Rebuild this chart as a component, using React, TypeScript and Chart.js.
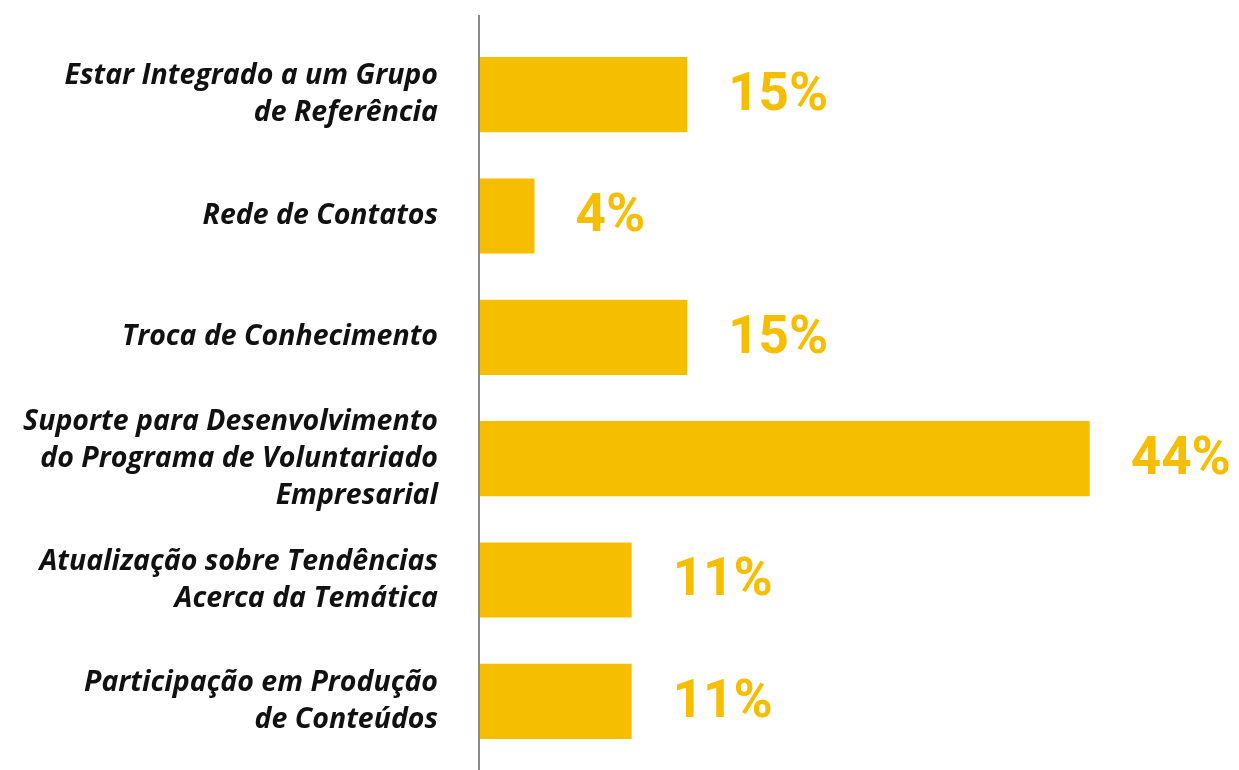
import React, { useEffect, useRef } from "react";
import { Chart, registerables } from "chart.js";

Chart.register(...registerables);

const categories: string[][] = [
  ["Estar Integrado a um Grupo", "de Referência"],
  ["Rede de Contatos"],
  ["Troca de Conhecimento"],
  ["Suporte para Desenvolvimento", "do Programa de Voluntariado", "Empresarial"],
  ["Atualização sobre Tendências", "Acerca da Temática"],
  ["Participação em Produção", "de Conteúdos"],
];
const values: number[] = [15, 4, 15, 44, 11, 11];

const GOLD = "#F6BE00";

const valueLabels = {
  id: "valueLabels",
  afterDatasetsDraw(chart: any) {
    const ctx = chart.ctx;
    const meta = chart.getDatasetMeta(0);
    ctx.save();
    ctx.fillStyle = GOLD;
    ctx.font = "bold 53px Roboto";
    ctx.textAlign = "left";
    ctx.textBaseline = "middle";
    meta.data.forEach((bar: any, i: number) => {
      ctx.fillText(values[i] + "%", bar.x + 41, bar.y + 2);
    });
    ctx.restore();
  },
};

const axisLine = {
  id: "axisLine",
  afterDraw(chart: any) {
    const ctx = chart.ctx;
    const x = chart.chartArea.left;
    ctx.save();
    ctx.strokeStyle = "#8a8a8a";
    ctx.lineWidth = 2;
    ctx.beginPath();
    ctx.moveTo(x, 7);
    ctx.lineTo(x, chart.height);
    ctx.stroke();
    ctx.restore();
  },
};

export default function App() {
  const ref = useRef<HTMLCanvasElement>(null);
  useEffect(() => {
    if (!ref.current) return;
    const chart = new Chart(ref.current, {
      type: "bar",
      data: {
        labels: categories,
        datasets: [
          {
            data: values,
            backgroundColor: GOLD,
            borderWidth: 0,
            barPercentage: 0.62,
            categoryPercentage: 1,
          },
        ],
      },
      options: {
        indexAxis: "y",
        animation: false,
        responsive: false,
        layout: { padding: { top: 26, bottom: 8, left: 0, right: 66 } },
        plugins: { legend: { display: false }, tooltip: { enabled: false } },
        scales: {
          x: {
            min: 0,
            max: 50,
            display: false,
          },
          y: {
            grid: { display: false, drawTicks: false },
            border: { display: false },
            afterFit(scale: any) {
              scale.width = 471;
              scale.paddingTop = 0;
              scale.paddingBottom = 0;
            },
            ticks: {
              color: "#111111",
              padding: 41,
              font: { family: "Open Sans", size: 28.5, style: "italic", weight: "bold", lineHeight: 1.3 },
            },
          },
        },
      },
      plugins: [valueLabels, axisLine],
    });
    return () => chart.destroy();
  }, []);
  return (
    <div>
      <canvas ref={ref} width={1231} height={762} style={{ display: "block" }} />
    </div>
  );
}
